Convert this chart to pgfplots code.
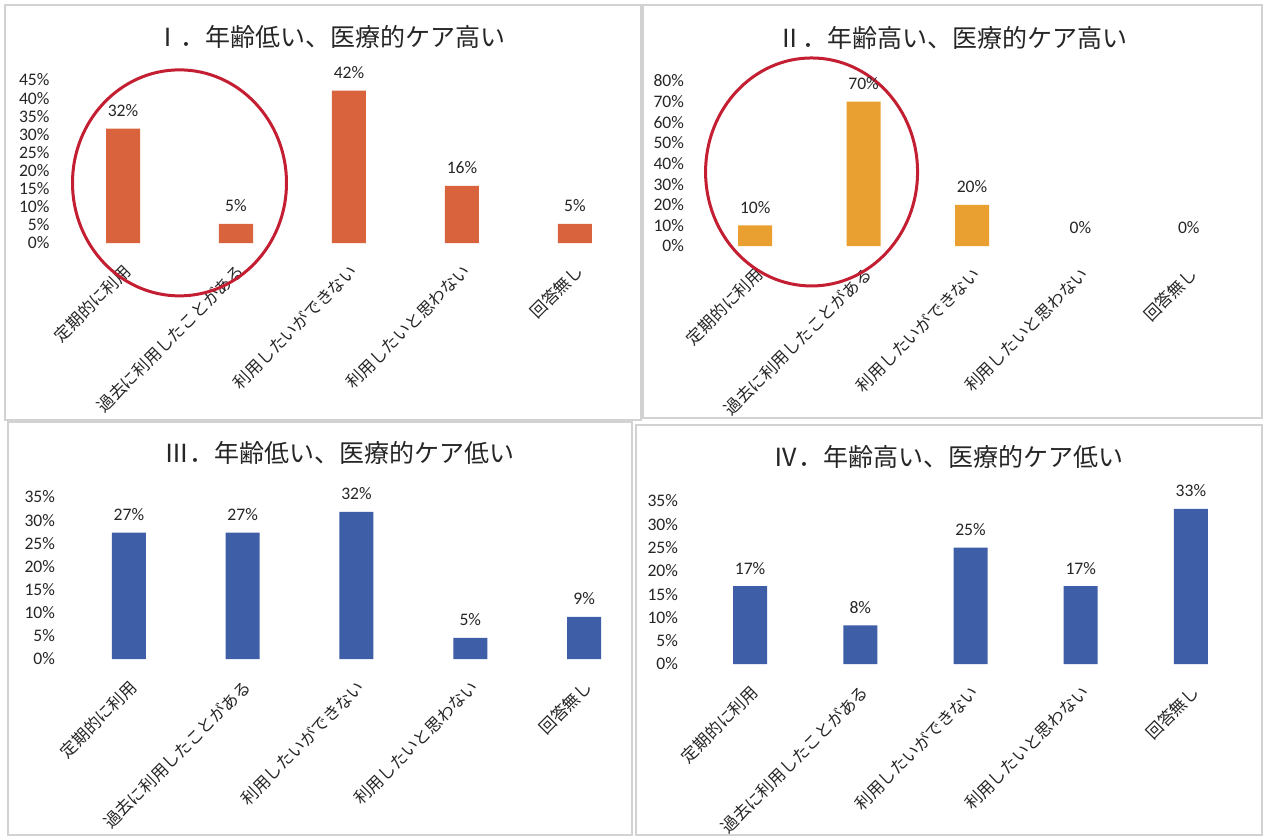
\documentclass[border=0pt]{standalone}
\usepackage{fontspec}
\setmainfont{Carlito}
\newfontfamily\cjk{Noto Sans CJK JP}
\usepackage{pgfplots}
\pgfplotsset{compat=1.18}
\definecolor{barI}{HTML}{D8633C}
\definecolor{barII}{HTML}{E9A030}
\definecolor{barB}{HTML}{3E5EA8}
\definecolor{circ}{HTML}{C41E32}
\pgfplotsset{
 panel/.style={
  scale only axis, anchor=south west,
  ybar, bar width=17pt, bar shift=0pt, xmin=-0.5, xmax=4.5, ymin=0,
  xtick={0,1,2,3,4},
  xticklabels={定期的に利用,過去に利用したことがある,利用したいができない,利用したいと思わない,回答無し},
  axis line style={draw=none}, major tick style={draw=none},
  yticklabel={\pgfmathprintnumber{\tick}\%},
  yticklabel style={font=\fontsize{8.8}{10}\selectfont, text=black!85, xshift=-5pt},
  xticklabel style={font=\cjk\fontsize{8.3}{10}\selectfont, text=black!85, rotate=45, anchor=north east, inner sep=1pt, xshift=-3pt, yshift=-2.5pt},
  nodes near coords={\pgfmathprintnumber[fixed,precision=0]{\pgfplotspointmeta}\%},
  every node near coord/.append style={font=\fontsize{8.8}{10}\selectfont, text=black!85, yshift=2.5pt},
  clip=false,
  /pgf/number format/assume math mode=true,
 }
}
\begin{document}
\begin{tikzpicture}
\path[use as bounding box] (0,0) rectangle (633.5pt,-419.5pt);
\fill[white] (0,0) rectangle (633.5pt,-419.5pt);
\draw[gray!35, line width=0.6pt] (2.5pt,-2.5pt) rectangle (320.5pt,-210pt);
\draw[gray!35, line width=0.6pt] (321.5pt,-2.5pt) rectangle (631pt,-209pt);
\draw[gray!35, line width=0.6pt] (4pt,-211pt) rectangle (316pt,-417.5pt);
\draw[gray!35, line width=0.6pt] (318pt,-212.5pt) rectangle (631pt,-417.5pt);

% Panel I
\begin{axis}[panel, at={(33.25pt,-121.5pt)}, width=282.5pt, height=81.5pt, ymax=45, ytick={0,5,...,45}]
\addplot[fill=barI, draw=none] coordinates {(0,31.6) (1,5.3) (2,42.1) (3,15.8) (4,5.3)};
\draw[circ, line width=1.5pt] (axis cs:0.5,16.6) ellipse [x radius=53.5pt, y radius=56.5pt];
\end{axis}
\node[font=\cjk\fontsize{12.5}{14}\selectfont, text=black!85] at (165pt,-18.5pt) {Ⅰ．年齢低い、医療的ケア高い};

% Panel II
\begin{axis}[panel, at={(350.5pt,-123pt)}, width=271pt, height=82.5pt, ymax=80, ytick={0,10,...,80}]
\addplot[fill=barII, draw=none] coordinates {(0,10) (1,70) (2,20)};
\addplot[fill=none, draw=none] coordinates {(3,0) (4,0)};
\draw[circ, line width=1.5pt] (axis cs:0.52,35.9) ellipse [x radius=53pt, y radius=57pt];
\end{axis}
\node[font=\cjk\fontsize{12.5}{14}\selectfont, text=black!85] at (476pt,-19pt) {Ⅱ．年齢高い、医療的ケア高い};

% Panel III
\begin{axis}[panel, at={(36pt,-329.5pt)}, width=284.5pt, height=81pt, ymax=35, ytick={0,5,...,35}]
\addplot[fill=barB, draw=none] coordinates {(0,27.3) (1,27.3) (2,31.8) (3,4.55) (4,9.1)};
\end{axis}
\node[font=\cjk\fontsize{12.5}{14}\selectfont, text=black!85] at (169.5pt,-226.5pt) {Ⅲ．年齢低い、医療的ケア低い};

% Panel IV
\begin{axis}[panel, at={(347.5pt,-332pt)}, width=275.5pt, height=81.5pt, ymax=35, ytick={0,5,...,35}]
\addplot[fill=barB, draw=none] coordinates {(0,16.7) (1,8.3) (2,25) (3,16.7) (4,33.3)};
\end{axis}
\node[font=\cjk\fontsize{12.5}{14}\selectfont, text=black!85] at (474pt,-228.5pt) {Ⅳ．年齢高い、医療的ケア低い};
\end{tikzpicture}
\end{document}
